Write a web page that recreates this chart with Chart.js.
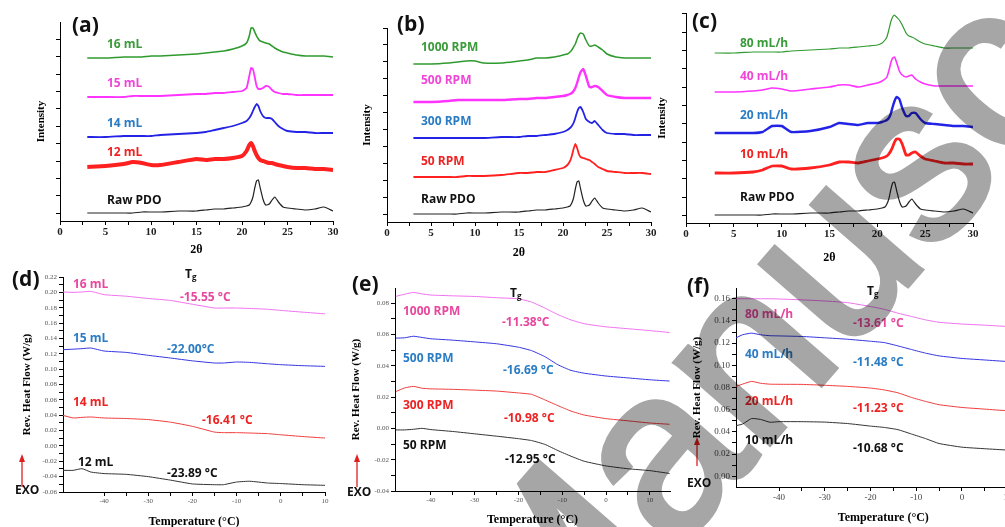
<!DOCTYPE html>
<html>
<head>
<meta charset="utf-8">
<script src="https://cdn.jsdelivr.net/npm/chart.js@4.4.1/dist/chart.umd.min.js"></script>
<style>
  body { margin: 0; width: 1005px; height: 527px; overflow: hidden; background: #fff; position: relative; }
  canvas { position: absolute; }
  .lbl { position: absolute; font-family: "Open Sans", sans-serif; font-weight: 700; font-size: 12px;
         white-space: nowrap; line-height: 1; transform: translateY(-50%); }
  .pl { position: absolute; font-family: "Open Sans", sans-serif; font-weight: 700; font-size: 21px;
        line-height: 1; transform: translateY(-50%); color: #111; }
  .tg sub { font-size: 8px; vertical-align: -2px; }
  svg.over { position: absolute; left: 0; top: 0; pointer-events: none; }
</style>
</head>
<body>
<canvas id="ca"></canvas>
<canvas id="cb"></canvas>
<canvas id="cc"></canvas>
<canvas id="cd"></canvas>
<canvas id="ce"></canvas>
<canvas id="cf"></canvas>

<!-- panel letters -->
<div class="pl" style="left:72px;top:24px">(a)</div>
<div class="pl" style="left:397px;top:23px">(b)</div>
<div class="pl" style="left:692px;top:20px">(c)</div>
<div class="pl" style="left:12px;top:278px">(d)</div>
<div class="pl" style="left:352px;top:283px">(e)</div>
<div class="pl" style="left:687px;top:285px">(f)</div>

<!-- XRD labels -->
<div class="lbl" style="left:107px;top:44px;color:#3a9b3a">16 mL</div>
<div class="lbl" style="left:107px;top:83px;color:#f046d8">15 mL</div>
<div class="lbl" style="left:107px;top:123px;color:#2a7cc4">14 mL</div>
<div class="lbl" style="left:107px;top:152px;color:#ee2222">12 mL</div>
<div class="lbl" style="left:107px;top:200px;color:#111">Raw PDO</div>

<div class="lbl" style="left:421px;top:47px;color:#3a9b3a">1000 RPM</div>
<div class="lbl" style="left:421px;top:80px;color:#f046d8">500 RPM</div>
<div class="lbl" style="left:421px;top:121px;color:#2a7cc4">300 RPM</div>
<div class="lbl" style="left:421px;top:161px;color:#ee2222">50 RPM</div>
<div class="lbl" style="left:421px;top:199px;color:#111">Raw PDO</div>

<div class="lbl" style="left:740px;top:43px;color:#3a9b3a">80 mL/h</div>
<div class="lbl" style="left:740px;top:76px;color:#f046d8">40 mL/h</div>
<div class="lbl" style="left:740px;top:115px;color:#2a7cc4">20 mL/h</div>
<div class="lbl" style="left:740px;top:154px;color:#ee2222">10 mL/h</div>
<div class="lbl" style="left:740px;top:197px;color:#111">Raw PDO</div>

<!-- DSC labels -->
<div class="lbl tg" style="left:185px;top:274px;color:#111">T<sub>g</sub></div>
<div class="lbl" style="left:73px;top:284px;color:#e8479e">16 mL</div>
<div class="lbl" style="left:180px;top:297px;color:#e8479e">-15.55 °C</div>
<div class="lbl" style="left:73px;top:338px;color:#2a7cc4">15 mL</div>
<div class="lbl" style="left:167px;top:349px;color:#2a7cc4">-22.00°C</div>
<div class="lbl" style="left:73px;top:402px;color:#ee2222">14 mL</div>
<div class="lbl" style="left:202px;top:420px;color:#ee2222">-16.41 °C</div>
<div class="lbl" style="left:78px;top:462px;color:#111">12 mL</div>
<div class="lbl" style="left:167px;top:473px;color:#111">-23.89 °C</div>
<div class="lbl" style="left:15px;top:490px;color:#111">EXO</div>

<div class="lbl tg" style="left:510px;top:293px;color:#111">T<sub>g</sub></div>
<div class="lbl" style="left:403px;top:311px;color:#e8479e">1000 RPM</div>
<div class="lbl" style="left:502px;top:322px;color:#e8479e">-11.38°C</div>
<div class="lbl" style="left:403px;top:358px;color:#2a7cc4">500 RPM</div>
<div class="lbl" style="left:503px;top:370px;color:#2a7cc4">-16.69 °C</div>
<div class="lbl" style="left:403px;top:405px;color:#ee2222">300 RPM</div>
<div class="lbl" style="left:504px;top:418px;color:#ee2222">-10.98 °C</div>
<div class="lbl" style="left:403px;top:445px;color:#111">50 RPM</div>
<div class="lbl" style="left:505px;top:459px;color:#111">-12.95 °C</div>
<div class="lbl" style="left:347px;top:492px;color:#111">EXO</div>

<div class="lbl tg" style="left:867px;top:291px;color:#111">T<sub>g</sub></div>
<div class="lbl" style="left:745px;top:314px;color:#e8479e">80 mL/h</div>
<div class="lbl" style="left:853px;top:323px;color:#e8479e">-13.61 °C</div>
<div class="lbl" style="left:745px;top:354px;color:#2a7cc4">40 mL/h</div>
<div class="lbl" style="left:853px;top:362px;color:#2a7cc4">-11.48 °C</div>
<div class="lbl" style="left:745px;top:401px;color:#ee2222">20 mL/h</div>
<div class="lbl" style="left:853px;top:408px;color:#ee2222">-11.23 °C</div>
<div class="lbl" style="left:745px;top:440px;color:#111">10 mL/h</div>
<div class="lbl" style="left:853px;top:448px;color:#111">-10.68 °C</div>
<div class="lbl" style="left:687px;top:483px;color:#111">EXO</div>

<!-- EXO arrows -->
<svg class="over" width="1005" height="527">
  <g stroke="#e02020" stroke-width="1.3" fill="#e02020">
    <line x1="22" y1="487" x2="22" y2="460"/>
    <polygon points="22,454 19,462 25,462" stroke="none"/>
    <line x1="357" y1="487" x2="357" y2="460"/>
    <polygon points="357,454 354,462 360,462" stroke="none"/>
    <line x1="697" y1="466" x2="697" y2="443"/>
    <polygon points="697,437 694,445 700,445" stroke="none"/>
  </g>
</svg>

<!-- watermark -->
<svg class="over" width="1005" height="527" style="mix-blend-mode:multiply">
  <text x="545" y="702" transform="rotate(-49 545 702)" font-family="Liberation Sans, Arial, sans-serif"
        font-size="235" fill="#a6a6a6" stroke="#a6a6a6" stroke-width="6">Manuscript</text>
</svg>

<script>
// ---------- XRD data (2θ, intensity in a.u. above each axis) ----------
const xrdTheta = [3, 5, 7, 8, 9, 10, 11, 13, 15, 16, 17, 18, 19, 20, 20.5, 20.8, 21, 21.2, 21.4, 21.6,
                  21.8, 22, 22.3, 22.6, 23, 23.3, 23.6, 24, 24.5, 25, 26, 27, 28, 29, 30];
const xrdThetaTicks = [0, 5, 10, 15, 20, 25, 30];

const rawPDO = [8, 8, 8, 8, 9, 9, 9, 10, 10, 11, 12, 12, 13, 14, 15, 16, 19, 24, 33, 40,
                41, 33, 22, 16, 17, 21, 24, 19, 14, 13, 12, 11, 12, 14, 10];

// (a) solution volume
const a16 = [163, 163, 164, 164, 164, 165, 165, 166, 167, 168, 169, 170, 172, 175, 178, 185, 193, 193, 189, 185,
             182, 180, 179, 178, 177, 175, 173, 171, 169, 168, 166, 165, 165, 165, 164];
const a15 = [124, 124, 124, 125, 125, 125, 125, 126, 127, 127, 128, 128, 129, 130, 133, 145, 153, 152, 144, 135,
             132, 132, 133, 135, 134, 131, 129, 128, 127, 127, 126, 126, 126, 126, 126];
const a14 = [84, 84, 85, 85, 85, 85, 86, 87, 88, 89, 91, 93, 95, 98, 100, 103, 106, 110, 114, 117,
             115, 110, 105, 103, 103, 102, 99, 95, 92, 90, 89, 89, 88, 88, 88];
const a12 = [54, 55, 57, 59, 58, 56, 56, 59, 62, 61, 62, 62, 63, 65, 70, 76, 78, 75, 70, 66,
             63, 61, 60, 59, 58, 58, 57, 56, 55, 54, 53, 53, 52, 52, 51];

// (b) rotation speed
const b1000 = [158, 158, 159, 160, 161, 161, 159, 159, 161, 162, 164, 164, 165, 167, 168, 170, 172, 175, 178, 183,
               187, 189, 188, 182, 176, 176, 177, 175, 172, 168, 165, 164, 164, 164, 164];
const b500 = [120, 120, 121, 122, 122, 122, 122, 122, 123, 123, 124, 124, 125, 126, 127, 128, 129, 131, 134, 139,
              145, 150, 153, 146, 135, 135, 136, 135, 131, 127, 125, 124, 124, 124, 124];
const b300 = [84, 84, 84, 84, 84, 84, 84, 85, 85, 86, 86, 87, 88, 90, 92, 94, 96, 99, 104, 110,
              114, 115, 110, 103, 100, 99, 101, 97, 92, 89, 88, 88, 87, 87, 87];
const b50 = [45, 45, 45, 45, 46, 46, 46, 47, 49, 49, 50, 50, 52, 54, 57, 61, 66, 73, 78, 74,
             68, 65, 64, 63, 62, 60, 58, 55, 53, 51, 50, 49, 49, 49, 48];

// (c) flow rate
const c80 = [170, 170, 171, 171, 171, 171, 172, 173, 174, 175, 175, 176, 177, 178, 180, 183, 186, 193, 201, 206,
             208, 206, 203, 198, 190, 187, 186, 184, 181, 179, 177, 175, 175, 175, 175];
const c40 = [131, 131, 132, 133, 135, 134, 132, 134, 136, 138, 138, 136, 138, 140, 142, 144, 146, 152, 160, 165,
             166, 161, 152, 148, 146, 147, 148, 144, 141, 139, 137, 137, 137, 137, 137];
const c20 = [90, 90, 90, 91, 97, 97, 91, 92, 96, 100, 99, 98, 100, 100, 101, 102, 103, 105, 109, 116,
             122, 126, 124, 115, 107, 107, 110, 110, 104, 100, 99, 98, 97, 97, 96];
const c10 = [50, 50, 51, 53, 57, 57, 54, 55, 58, 61, 61, 60, 62, 64, 65, 66, 67, 69, 72, 76,
             81, 84, 84, 79, 68, 68, 70, 71, 67, 64, 62, 60, 60, 59, 59];

// ---------- DSC data (temperature °C, rev. heat flow W/g) ----------
const tempD = [-49.3, -47, -45, -43, -40, -35, -30, -25, -20, -15, -13, -10, -7, -3, 0, 5, 10];
const d16 = [0.2005, 0.200, 0.2005, 0.2013, 0.197, 0.195, 0.192, 0.1895, 0.1845, 0.1796, 0.1796, 0.1796, 0.179, 0.178, 0.1765, 0.1742, 0.172];
const d15 = [0.1254, 0.126, 0.1267, 0.1275, 0.1236, 0.1218, 0.118, 0.1145, 0.1108, 0.108, 0.108, 0.1093, 0.1088, 0.107, 0.1058, 0.1045, 0.1036];
const d14 = [0.0398, 0.0364, 0.0372, 0.0377, 0.0364, 0.0357, 0.0343, 0.031, 0.0255, 0.018, 0.0173, 0.0173, 0.0168, 0.016, 0.0145, 0.0122, 0.0103];
const d12 = [-0.0318, -0.0318, -0.0296, -0.034, -0.036, -0.037, -0.04, -0.0445, -0.0495, -0.0505, -0.0505, -0.047, -0.046, -0.0483, -0.049, -0.0505, -0.0513];

const tempE = [-48, -46, -44, -42, -40, -35, -30, -25, -20, -17, -14, -11, -8, -5, 0, 5, 10, 14.5];
const e1000 = [0.0843, 0.0856, 0.0868, 0.0858, 0.0851, 0.0846, 0.0842, 0.0834, 0.0827, 0.0806, 0.0768, 0.0726, 0.0692, 0.0668, 0.0648, 0.0636, 0.0624, 0.0612];
const e500 = [0.0576, 0.0578, 0.0588, 0.058, 0.0572, 0.0563, 0.0552, 0.054, 0.0518, 0.0496, 0.0458, 0.0406, 0.037, 0.0352, 0.0334, 0.0322, 0.031, 0.0302];
const e300 = [0.0235, 0.0258, 0.0268, 0.0256, 0.0252, 0.0249, 0.0244, 0.0238, 0.0226, 0.0217, 0.0182, 0.0145, 0.011, 0.0085, 0.0062, 0.0048, 0.0034, 0.0026];
const e50 = [-0.001, -0.001, -0.0006, 0.0, -0.0008, -0.002, -0.0035, -0.005, -0.0066, -0.0078, -0.0102, -0.0142, -0.0178, -0.021, -0.024, -0.0258, -0.027, -0.0288];

const tempF = [-49.5, -48, -46, -44, -42, -40, -35, -30, -25, -20, -17, -14, -11, -8, -5, 0, 5, 10, 14.5];
const f80 = [0.16, 0.16, 0.16, 0.16, 0.16, 0.1598, 0.159, 0.158, 0.1565, 0.153, 0.1505, 0.147, 0.144, 0.141, 0.1388, 0.1372, 0.1362, 0.135, 0.1342];
const f40 = [0.1245, 0.1275, 0.129, 0.1275, 0.1267, 0.1265, 0.126, 0.1248, 0.1235, 0.1217, 0.1205, 0.1175, 0.1142, 0.111, 0.1085, 0.1062, 0.1048, 0.1034, 0.1025];
const f20 = [0.0808, 0.083, 0.0855, 0.0838, 0.083, 0.0829, 0.0828, 0.082, 0.081, 0.0795, 0.0778, 0.0752, 0.071, 0.0675, 0.0645, 0.062, 0.0605, 0.059, 0.058];
const f10 = [0.0455, 0.047, 0.052, 0.0512, 0.0487, 0.0492, 0.0492, 0.0488, 0.0475, 0.0452, 0.044, 0.042, 0.038, 0.034, 0.0295, 0.0262, 0.0248, 0.0236, 0.023];

const tempTicks = [-40, -30, -20, -10, 0, 10];
const flowTicksD = [-0.06, -0.04, -0.02, 0.00, 0.02, 0.04, 0.06, 0.08, 0.10, 0.12, 0.14, 0.16, 0.18, 0.20, 0.22];
const flowTicksE = [-0.04, -0.02, 0.00, 0.02, 0.04, 0.06, 0.08];
const flowTicksF = [0.00, 0.02, 0.04, 0.06, 0.08, 0.10, 0.12, 0.14, 0.16];

// ---------- helpers ----------
const GREEN = "#2f9a2f", MAGENTA = "#ff33ff", BLUE = "#2323e6", RED = "#ff2020", BLACK = "#222";

function pts(xs, ys) {
  return xs.map((x, i) => ({ x: x, y: ys[i] }));
}

function series(xs, ys, color, width) {
  return { data: pts(xs, ys), borderColor: color, borderWidth: width, showLine: true,
           pointRadius: 0, tension: 0.15, fill: false };
}

// major ticks plus midpoints as unlabelled minor ticks
function withMinor(major) {
  const out = [];
  major.forEach((v, i) => {
    out.push(v);
    if (i < major.length - 1) out.push((v + major[i + 1]) / 2);
  });
  return out;
}

function evenTicks(start, step, end) {
  const out = [];
  for (let v = start; v <= end + 1e-9; v += step) out.push(v);
  return out;
}

function isMajor(v, major) {
  return major.some((m) => Math.abs(m - v) < 1e-9);
}

function makePanel(id, box, plot, cfg) {
  const cv = document.getElementById(id);
  cv.width = box.w;
  cv.height = box.h;
  cv.style.left = box.x + "px";
  cv.style.top = box.y + "px";

  const axisLine = { display: true, color: "#000", width: 1 };
  const grid = { drawOnChartArea: false, tickLength: 4, tickColor: "#000", tickWidth: 1 };

  new Chart(cv.getContext("2d"), {
    type: "scatter",
    data: { datasets: cfg.datasets },
    options: {
      responsive: false,
      animation: false,
      events: [],
      layout: { padding: { left: 0, bottom: 0, top: plot.t - box.y, right: box.x + box.w - plot.r } },
      plugins: { legend: { display: false }, tooltip: { enabled: false } },
      scales: {
        x: {
          type: "linear", min: cfg.xMin, max: cfg.xMax,
          border: axisLine, grid: grid,
          afterBuildTicks: (s) => { s.ticks = withMinor(cfg.xTicks).map((v) => ({ value: v })); },
          afterFit: (s) => { s.height = box.y + box.h - plot.b; },
          ticks: {
            autoSkip: false, maxRotation: 0, padding: 1,
            color: cfg.tickColor, font: cfg.tickFont,
            callback: (v) => (isMajor(v, cfg.xTicks) ? String(v) : ""),
          },
          title: { display: true, text: cfg.xTitle, color: "#000", padding: 0,
                   font: { family: "Liberation Serif", weight: "bold", size: 12 } },
        },
        y: {
          type: "linear", min: cfg.yMin, max: cfg.yMax,
          border: axisLine, grid: grid,
          afterBuildTicks: (s) => { s.ticks = cfg.yTicks.map((v) => ({ value: v })); },
          afterFit: (s) => { s.width = plot.l - box.x; },
          ticks: {
            autoSkip: false, padding: 2,
            color: cfg.tickColor, font: cfg.yTickFont || cfg.tickFont,
            callback: cfg.yLabel,
          },
          title: { display: true, text: cfg.yTitle, color: "#000", padding: 0,
                   font: { family: "Liberation Serif", weight: "bold", size: 11 } },
        },
      },
    },
  });
}

// ---------- XRD panels ----------
const xrdFont = { family: "Liberation Serif", weight: "bold", size: 11 };
const noLabel = () => "";

makePanel("ca", { x: 35, y: 0, w: 310, h: 257 }, { l: 60, t: 22, r: 333, b: 221 }, {
  xMin: 0, xMax: 30, xTicks: xrdThetaTicks, yMin: 0, yMax: 199,
  yTicks: evenTicks(7.7, 17.4, 199), yLabel: noLabel,
  tickColor: "#222", tickFont: xrdFont, xTitle: "2θ", yTitle: "Intensity",
  datasets: [
    series(xrdTheta, a16, GREEN, 1.6),
    series(xrdTheta, a15, MAGENTA, 1.8),
    series(xrdTheta, a14, BLUE, 1.8),
    series(xrdTheta, a12, RED, 4),
    series(xrdTheta, rawPDO, BLACK, 1.2),
  ],
});

makePanel("cb", { x: 361, y: 0, w: 304, h: 260 }, { l: 387, t: 28, r: 651, b: 222 }, {
  xMin: 0, xMax: 30, xTicks: xrdThetaTicks, yMin: 0, yMax: 194,
  yTicks: evenTicks(8, 16.9, 194), yLabel: noLabel,
  tickColor: "#222", tickFont: xrdFont, xTitle: "2θ", yTitle: "Intensity",
  datasets: [
    series(xrdTheta, b1000, GREEN, 1.5),
    series(xrdTheta, b500, MAGENTA, 2.4),
    series(xrdTheta, b300, BLUE, 1.8),
    series(xrdTheta, b50, RED, 1.8),
    series(xrdTheta, rawPDO, BLACK, 1.2),
  ],
});

makePanel("cc", { x: 656, y: 0, w: 344, h: 265 }, { l: 686, t: 13, r: 973, b: 223 }, {
  xMin: 0, xMax: 30, xTicks: xrdThetaTicks, yMin: 0, yMax: 210,
  yTicks: evenTicks(7.7, 18.3, 210), yLabel: noLabel,
  tickColor: "#222", tickFont: xrdFont, xTitle: "2θ", yTitle: "Intensity",
  datasets: [
    series(xrdTheta, c80, GREEN, 1.2),
    series(xrdTheta, c40, MAGENTA, 1.6),
    series(xrdTheta, c20, BLUE, 2.4),
    series(xrdTheta, c10, RED, 2.8),
    series(xrdTheta, rawPDO, BLACK, 1.2),
  ],
});

// ---------- DSC panels ----------
const dscFont = { family: "Liberation Serif", size: 7 };
const flowLabel = (major) => (v) => (isMajor(v, major) ? v.toFixed(2) : "");

makePanel("cd", { x: 21, y: 262, w: 314, h: 267 }, { l: 63, t: 277, r: 325, b: 492 }, {
  xMin: -49.3, xMax: 10, xTicks: tempTicks, yMin: -0.06, yMax: 0.22,
  yTicks: withMinor(flowTicksD), yLabel: flowLabel(flowTicksD),
  tickColor: "#555", tickFont: dscFont, xTitle: "Temperature (°C)", yTitle: "Rev. Heat Flow (W/g)",
  datasets: [
    series(tempD, d16, "#f070f0", 1),
    series(tempD, d15, "#3434e0", 1),
    series(tempD, d14, "#f03c3c", 1),
    series(tempD, d12, "#333", 1),
  ],
});

makePanel("ce", { x: 350, y: 270, w: 335, h: 257 }, { l: 395, t: 288, r: 670, b: 491 }, {
  xMin: -48.2, xMax: 14.6, xTicks: tempTicks, yMin: -0.04, yMax: 0.0896,
  yTicks: withMinor(flowTicksE), yLabel: flowLabel(flowTicksE),
  tickColor: "#555", tickFont: dscFont, xTitle: "Temperature (°C)", yTitle: "Rev. Heat Flow (W/g)",
  datasets: [
    series(tempE, e1000, "#f070f0", 1),
    series(tempE, e500, "#3434e0", 1),
    series(tempE, e300, "#f03c3c", 1),
    series(tempE, e50, "#333", 1),
  ],
});

makePanel("cf", { x: 691, y: 270, w: 359, h: 255 }, { l: 736, t: 288, r: 1030.6, b: 487 }, {
  xMin: -49.4, xMax: 15, xTicks: tempTicks, yMin: -0.0097, yMax: 0.1697,
  yTicks: withMinor(flowTicksF), yLabel: flowLabel(flowTicksF),
  tickColor: "#444", tickFont: { family: "Liberation Serif", size: 9 },
  xTitle: "Temperature (°C)", yTitle: "Rev. Heat Flow (W/g)",
  datasets: [
    series(tempF, f80, "#f070f0", 1),
    series(tempF, f40, "#3434e0", 1),
    series(tempF, f20, "#f03c3c", 1),
    series(tempF, f10, "#333", 1),
  ],
});
</script>
</body>
</html>
